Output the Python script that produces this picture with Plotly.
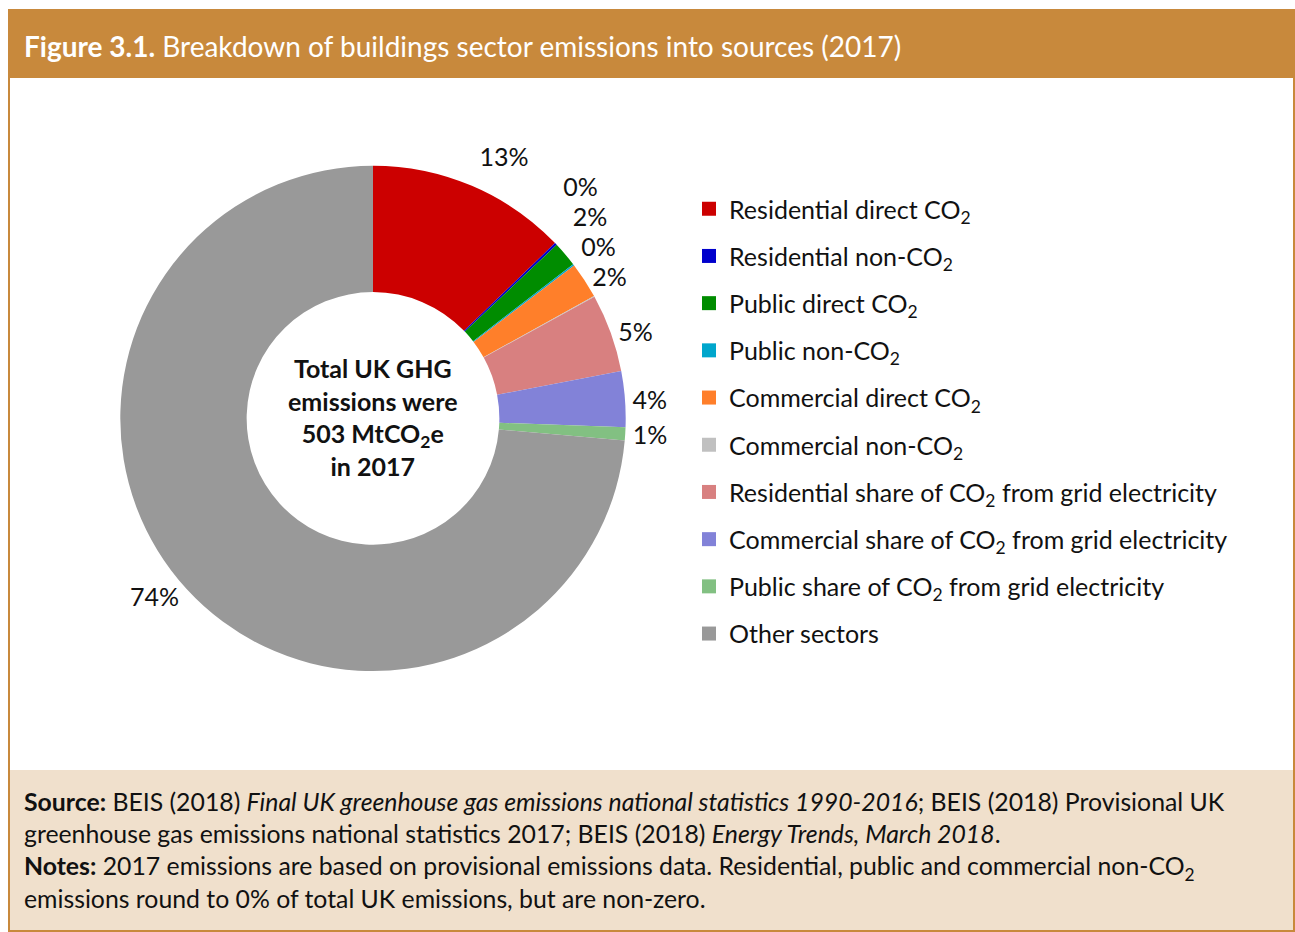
import plotly.graph_objects as go

# Breakdown of UK buildings sector emissions, 2017 (share of total UK GHG, %)
categories = [
    "Residential direct CO<sub>2</sub>",
    "Residential non-CO<sub>2</sub>",
    "Public direct CO<sub>2</sub>",
    "Public non-CO<sub>2</sub>",
    "Commercial direct CO<sub>2</sub>",
    "Commercial non-CO<sub>2</sub>",
    "Residential share of CO<sub>2</sub> from grid electricity",
    "Commercial share of CO<sub>2</sub> from grid electricity",
    "Public share of CO<sub>2</sub> from grid electricity",
    "Other sectors",
]
shares = [12.8, 0.15, 1.6, 0.1, 2.3, 0.05, 5.0, 3.55, 0.85, 73.6]
colors = [
    "#CC0000", "#0000CC", "#008C00", "#00A6CC", "#FF7F2A",
    "#C0C0C0", "#D88080", "#8282D8", "#82C082", "#999999",
]
# the commercial non-CO2 slice carries no data label
show_label = [True, True, True, True, True, False, True, True, True, True]

FONT = "Lato"
W, H = 1295, 932
FRAME = "#C8893C"
FOOT_BG = "#F0E0CC"


def px(x):
    return x / W


def py(y):
    return 1 - y / H


total = sum(shares)
labels_txt = [f"{v / total * 100:.0f}%" if s else "" for v, s in zip(shares, show_label)]

# donut geometry (pixels)
cx, cy, r = 373, 418.4, 252.7

fig = go.Figure()
fig.add_trace(go.Pie(
    labels=categories,
    values=shares,
    sort=False,
    direction="clockwise",
    rotation=0,
    hole=0.5,
    marker=dict(colors=colors, line=dict(width=0)),
    text=labels_txt,
    textinfo="text",
    textposition="outside",
    outsidetextfont=dict(family=FONT, size=25, color="#111111"),
    showlegend=False,
    hoverinfo="label+percent",
    domain=dict(x=[px(cx - r), px(cx + r)], y=[py(cy + r), py(cy - r)]),
))

# legend entries, one group per category so the rows are evenly spaced
for name, col in zip(categories, colors):
    fig.add_trace(go.Scatter(
        x=[None], y=[None], mode="markers", name=name,
        legendgroup=name,
        marker=dict(symbol="square", size=14, color=col),
        hoverinfo="skip",
    ))

shapes = [
    # white panel with frame
    dict(type="rect", xref="paper", yref="paper",
         x0=px(9), x1=px(1294), y0=py(931), y1=py(10),
         line=dict(color=FRAME, width=2), fillcolor="white", layer="below"),
    # header band
    dict(type="rect", xref="paper", yref="paper",
         x0=px(8), x1=px(1295), y0=py(78), y1=py(10),
         line=dict(width=0), fillcolor=FRAME, layer="below"),
    # notes band
    dict(type="rect", xref="paper", yref="paper",
         x0=px(10), x1=px(1293), y0=py(930), y1=py(770),
         line=dict(width=0), fillcolor=FOOT_BG, layer="below"),
]

annotations = [
    dict(xref="paper", yref="paper", x=px(22), y=py(46),
         xanchor="left", yanchor="middle", showarrow=False,
         text="<b>Figure 3.1.</b> Breakdown of buildings sector emissions into sources (2017)",
         font=dict(family=FONT, size=28, color="white")),
    dict(xref="paper", yref="paper", x=px(cx), y=py(cy - 1.5),
         xanchor="center", yanchor="middle", showarrow=False, align="center",
         text="<b>Total UK GHG<br>emissions were<br>503 MtCO<sub>2</sub>e<br>in 2017</b>",
         font=dict(family=FONT, size=25, color="#111111")),
    dict(xref="paper", yref="paper", x=px(22), y=py(785),
         xanchor="left", yanchor="top", showarrow=False, align="left",
         text=("<b>Source:</b> BEIS (2018) <i>Final UK greenhouse gas emissions national statistics 1990-2016</i>; "
               "BEIS (2018) Provisional UK<br>"
               "greenhouse gas emissions national statistics 2017; BEIS (2018) <i>Energy Trends, March 2018</i>.<br>"
               "<b>Notes:</b> 2017 emissions are based on provisional emissions data. Residential, public and commercial non-CO<sub>2</sub><br>"
               "emissions round to 0% of total UK emissions, but are non-zero."),
         font=dict(family=FONT, size=24.8, color="#111111")),
]

fig.update_layout(
    width=W, height=H,
    margin=dict(l=0, r=0, t=0, b=0),
    paper_bgcolor="white",
    plot_bgcolor="rgba(0,0,0,0)",
    xaxis=dict(visible=False),
    yaxis=dict(visible=False),
    shapes=shapes,
    annotations=annotations,
    showlegend=True,
    legend=dict(
        x=px(689), y=py(186), xanchor="left", yanchor="top",
        font=dict(family=FONT, size=25, color="#111111"),
        tracegroupgap=11.7, bgcolor="rgba(0,0,0,0)", borderwidth=0,
    ),
)

# the data labels are shown without leader lines
hide_leaders = (
    "var gd = document.getElementById('{plot_id}');"
    "gd.querySelectorAll('path.textline').forEach(function (p) { p.style.display = 'none'; });"
)

fig.write_html("out.html", post_script=hide_leaders)
